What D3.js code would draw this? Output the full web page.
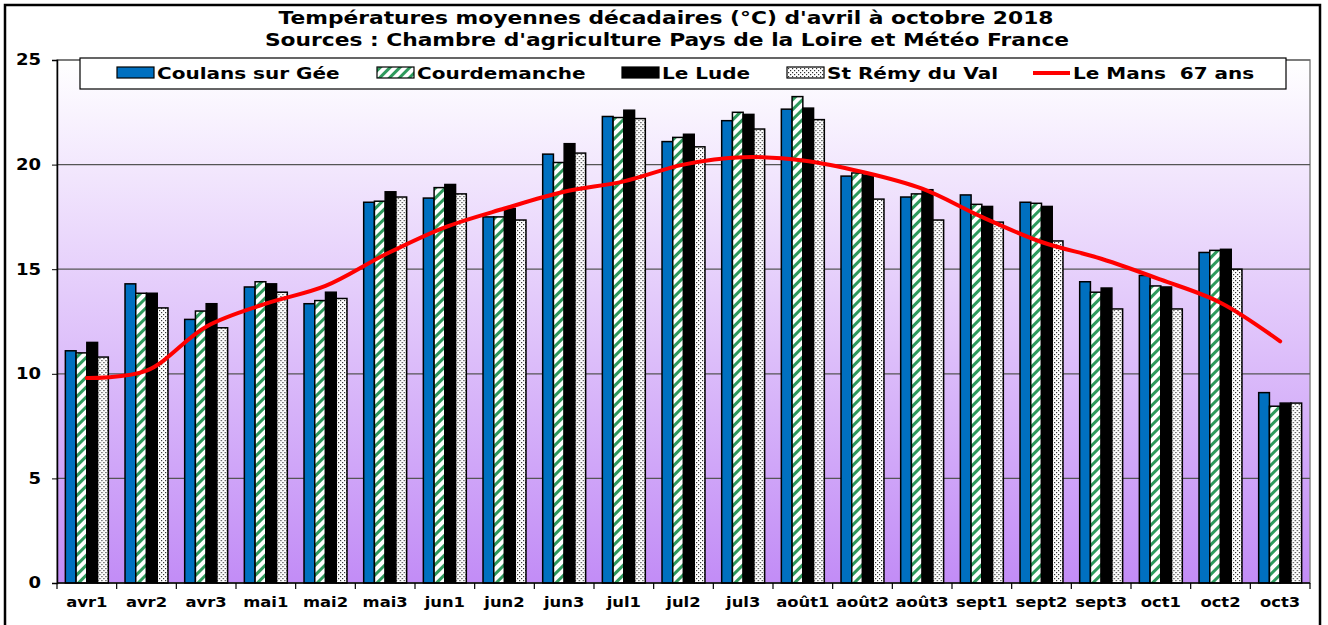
<!DOCTYPE html>
<html>
<head>
<meta charset="utf-8">
<script src="https://cdn.jsdelivr.net/npm/d3@7"></script>
<style>
  body { margin: 0; background: #fff; }
  svg { display: block; font-family: "DejaVu Sans", Verdana, sans-serif; }
  text { white-space: pre; }
</style>
</head>
<body>
<div id="chart"></div>
<script>
// Decades (10-day periods) from April to October 2018
const categories = ["avr1", "avr2", "avr3", "mai1", "mai2", "mai3", "jun1", "jun2", "jun3",
  "jul1", "jul2", "jul3", "août1", "août2", "août3", "sept1", "sept2", "sept3", "oct1", "oct2", "oct3"];

const coulans = [11.1, 14.3, 12.6, 14.15, 13.35, 18.2, 18.4, 17.5, 20.5, 22.3, 21.1, 22.1,
  22.65, 19.45, 18.45, 18.55, 18.2, 14.4, 14.7, 15.8, 9.1];
const courdemanche = [11.0, 13.85, 13.0, 14.4, 13.5, 18.25, 18.9, 17.5, 20.1, 22.25, 21.3, 22.5,
  23.25, 19.6, 18.6, 18.1, 18.15, 13.9, 14.2, 15.9, 8.45];
const leLude = [11.5, 13.85, 13.35, 14.3, 13.9, 18.7, 19.05, 17.9, 21.0, 22.6, 21.45, 22.4,
  22.7, 19.5, 18.8, 18.0, 18.0, 14.1, 14.15, 15.95, 8.6];
const stRemy = [10.8, 13.15, 12.2, 13.9, 13.6, 18.45, 18.6, 17.35, 20.55, 22.2, 20.85, 21.7,
  22.15, 18.35, 17.35, 17.25, 16.35, 13.1, 13.1, 15.0, 8.6];
// Le Mans, 67-year normal
const leMans = [9.8, 10.15, 12.25, 13.35, 14.2, 15.7, 17.0, 17.9, 18.7, 19.2, 20.0, 20.35,
  20.2, 19.65, 18.85, 17.5, 16.3, 15.5, 14.5, 13.4, 11.55];

const seriesNames = ["Coulans sur Gée", "Courdemanche", "Le Lude", "St Rémy du Val"];
const lineName = "Le Mans  67 ans";
const yTicks = [0, 5, 10, 15, 20, 25];

const barSeries = [coulans, courdemanche, leLude, stRemy];
const fills = ["#0070c0", "url(#stripes)", "#000000", "url(#dots)"];

const W = 1328, H = 625;
const plot = { left: 57, right: 1310, top: 60, bottom: 583 };

// the original font (Verdana bold) is wider than DejaVu: stretch text a bit
function widen(sel, k) {
  sel.each(function() {
    const len = this.getComputedTextLength();
    d3.select(this).attr("textLength", len * k).attr("lengthAdjust", "spacingAndGlyphs");
  });
}

const svg = d3.select("#chart").append("svg")
  .attr("width", W)
  .attr("height", H);

const defs = svg.append("defs");

// Plot background gradient, white at top to lilac at bottom
const grad = defs.append("linearGradient")
  .attr("id", "bg")
  .attr("x1", 0).attr("y1", 0).attr("x2", 0).attr("y2", 1);
grad.append("stop").attr("offset", "0%").attr("stop-color", "#ffffff");
grad.append("stop").attr("offset", "100%").attr("stop-color", "#c28cf6");

// Green diagonal stripes
const stripes = defs.append("pattern")
  .attr("id", "stripes")
  .attr("patternUnits", "userSpaceOnUse")
  .attr("width", 7).attr("height", 7)
  .attr("patternTransform", "rotate(45)");
stripes.append("rect").attr("width", 7).attr("height", 7).attr("fill", "#fff");
stripes.append("rect").attr("width", 3).attr("height", 7).attr("fill", "#2e9a5c");

// Small black dots
const dots = defs.append("pattern")
  .attr("id", "dots")
  .attr("patternUnits", "userSpaceOnUse")
  .attr("width", 4).attr("height", 4);
dots.append("rect").attr("width", 4).attr("height", 4).attr("fill", "#fff");
dots.append("rect").attr("x", 0).attr("y", 0).attr("width", 1.2).attr("height", 1.2).attr("fill", "#333");
dots.append("rect").attr("x", 2).attr("y", 2).attr("width", 1.2).attr("height", 1.2).attr("fill", "#333");

// Outer frame
svg.append("rect")
  .attr("x", 5).attr("y", 5)
  .attr("width", 1315).attr("height", 630)
  .attr("fill", "none")
  .attr("stroke", "#000")
  .attr("stroke-width", 2.5);

// Title
const t1 = svg.append("text")
  .attr("x", 666).attr("y", 24)
  .attr("text-anchor", "middle")
  .style("font-size", "17px").style("font-weight", "bold")
  .text("Températures moyennes décadaires (°C) d'avril à octobre 2018");
const t2 = svg.append("text")
  .attr("x", 667).attr("y", 46)
  .attr("text-anchor", "middle")
  .style("font-size", "17px").style("font-weight", "bold")
  .text("Sources : Chambre d'agriculture Pays de la Loire et Météo France");
widen(t1, 1.28);
widen(t2, 1.28);

// Scales
const x0 = d3.scaleBand()
  .domain(categories)
  .range([plot.left, plot.right])
  .paddingInner(0.28)
  .paddingOuter(0.14);

const x1 = d3.scaleBand()
  .domain(d3.range(barSeries.length))
  .range([0, x0.bandwidth()]);

const y = d3.scaleLinear()
  .domain([0, 25])
  .range([plot.bottom, plot.top]);

// Plot area
svg.append("rect")
  .attr("x", plot.left).attr("y", plot.top)
  .attr("width", plot.right - plot.left)
  .attr("height", plot.bottom - plot.top)
  .attr("fill", "url(#bg)")
  .attr("stroke", "#888")
  .attr("stroke-width", 1.5);

// Gridlines
svg.append("g")
  .selectAll("line")
  .data(yTicks.filter(d => d > 0))
  .enter().append("line")
  .attr("x1", plot.left).attr("x2", plot.right)
  .attr("y1", d => y(d)).attr("y2", d => y(d))
  .attr("stroke", "#555")
  .attr("stroke-width", 1.2);

// Bars
const groups = svg.append("g")
  .selectAll("g")
  .data(categories)
  .enter().append("g")
  .attr("transform", d => `translate(${x0(d)},0)`);

groups.selectAll("rect")
  .data((d, i) => barSeries.map((s, k) => ({ k: k, v: s[i] })))
  .enter().append("rect")
  .attr("x", d => x1(d.k))
  .attr("y", d => y(d.v))
  .attr("width", x1.bandwidth())
  .attr("height", d => y(0) - y(d.v))
  .attr("fill", d => fills[d.k])
  .attr("stroke", "#000")
  .attr("stroke-width", 1.5);

// Smoothed normal line
const line = d3.line()
  .x((d, i) => x0(categories[i]) + x0.bandwidth() / 2)
  .y(d => y(d))
  .curve(d3.curveCatmullRom.alpha(0.5));

svg.append("path")
  .datum(leMans)
  .attr("d", line)
  .attr("fill", "none")
  .attr("stroke", "#ff0000")
  .attr("stroke-width", 4)
  .attr("stroke-linecap", "round");

// Axes
const yAxis = svg.append("g")
  .attr("transform", `translate(${plot.left},0)`)
  .call(d3.axisLeft(y).tickValues(yTicks).tickSize(5).tickPadding(11));
yAxis.select(".domain").attr("stroke", "#000").attr("stroke-width", 1.5);
yAxis.selectAll("text").style("font-size", "15px").style("font-weight", "bold")
  .attr("fill", "#000").style("font-family", "DejaVu Sans, Verdana, sans-serif");
widen(yAxis.selectAll("text"), 1.2);

const xAxis = svg.append("g")
  .attr("transform", `translate(0,${plot.bottom})`);
xAxis.append("line")
  .attr("x1", plot.left).attr("x2", plot.right)
  .attr("stroke", "#000").attr("stroke-width", 1.5);
// tick marks between categories
xAxis.selectAll(".tk")
  .data(d3.range(categories.length + 1))
  .enter().append("line")
  .attr("class", "tk")
  .attr("x1", i => plot.left + i * x0.step())
  .attr("x2", i => plot.left + i * x0.step())
  .attr("y1", 0).attr("y2", 6)
  .attr("stroke", "#000").attr("stroke-width", 1.2);
const xLabels = xAxis.selectAll(".lbl")
  .data(categories)
  .enter().append("text")
  .attr("class", "lbl")
  .attr("x", d => x0(d) + x0.bandwidth() / 2)
  .attr("y", 24)
  .attr("text-anchor", "middle")
  .style("font-size", "14px").style("font-weight", "bold")
  .text(d => d);
widen(xLabels, 1.17);

// Legend
const legend = svg.append("g");
legend.append("rect")
  .attr("x", 80).attr("y", 58)
  .attr("width", 1206).attr("height", 31)
  .attr("fill", "#fff")
  .attr("stroke", "#000").attr("stroke-width", 1.2);

const legendItems = [
  { name: seriesNames[0], x: 117, fill: fills[0] },
  { name: seriesNames[1], x: 377, fill: fills[1] },
  { name: seriesNames[2], x: 622, fill: fills[2] },
  { name: seriesNames[3], x: 787, fill: fills[3] },
  { name: lineName, x: 1033, line: true }
];

legendItems.forEach(d => {
  if (d.line) {
    legend.append("line")
      .attr("x1", d.x).attr("x2", d.x + 37)
      .attr("y1", 73).attr("y2", 73)
      .attr("stroke", "#ff0000").attr("stroke-width", 4);
  } else {
    legend.append("rect")
      .attr("x", d.x).attr("y", 67)
      .attr("width", 37).attr("height", 11)
      .attr("fill", d.fill)
      .attr("stroke", "#000").attr("stroke-width", 1.2);
  }
  const txt = legend.append("text")
    .attr("x", d.x + 40).attr("y", 79)
    .style("font-size", "16px").style("font-weight", "bold")
    .text(d.name);
  widen(txt, 1.25);
});
</script>
</body>
</html>
